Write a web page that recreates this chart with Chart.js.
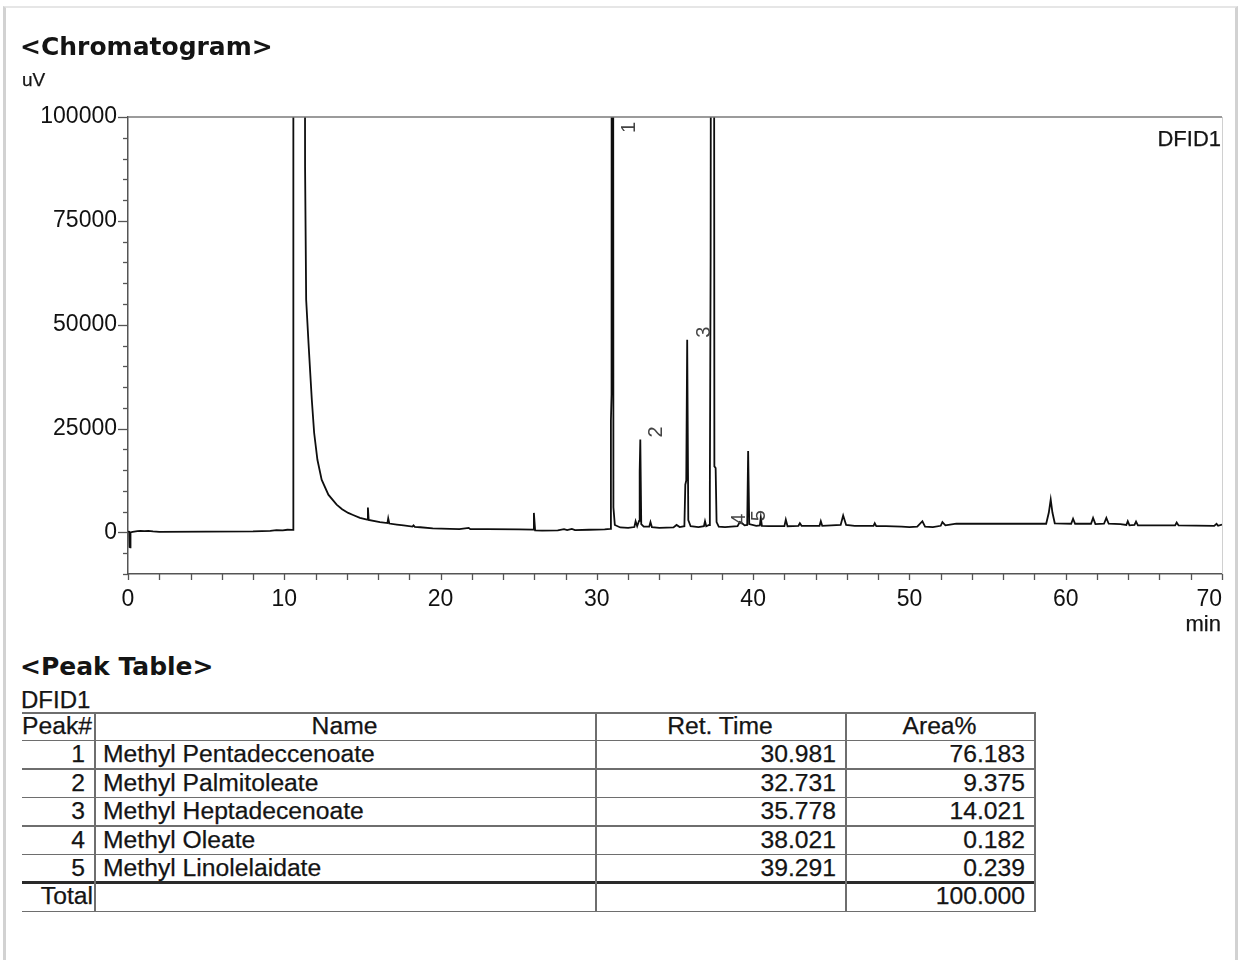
<!DOCTYPE html>
<html>
<head>
<meta charset="utf-8">
<script src="https://cdn.jsdelivr.net/npm/chart.js@4.4.1/dist/chart.umd.min.js"></script>
<style>
  html, body { margin: 0; padding: 0; background: #fff; }
  body { width: 1241px; height: 960px; position: relative; overflow: hidden;
         font-family: "Liberation Sans", Arial, sans-serif; color: #141414; }
  .frame { position: absolute; left: 3px; top: 6px; width: 1235px; height: 980px;
           border-left: 3px solid #d2d2d2; border-right: 3px solid #d2d2d2; border-top: 2px solid #e6e6e6;
           box-sizing: border-box; }
  #wrap { position: absolute; left: 0; top: 0; width: 1241px; height: 650px; }
  .t { position: absolute; white-space: nowrap; line-height: 1; -webkit-text-stroke: 0.25px #141414; }
  .hd { font-family: "DejaVu Sans", Verdana, sans-serif; font-weight: bold; -webkit-text-stroke: 0; }
  .ln { position: absolute; background: #6e6e6e; }
</style>
</head>
<body>
<div class="frame"></div>
<div id="wrap"><canvas id="c" width="1241" height="650"></canvas></div>
<div id="texts"></div>
<script>
// ---------- chromatogram trace (time in min, signal in uV) ----------
const times = [
  0.00, 0.08, 0.10, 0.14, 0.16, 0.30, 0.60, 0.80, 1.05, 1.30, 1.60, 2.00, 5.00, 8.00, 9.10, 9.50, 9.90, 10.20, 10.50, 10.56,
  10.58, 11.20, 11.33, 11.40, 11.55, 11.66, 11.76, 11.91, 12.12, 12.39, 12.82, 13.35, 13.70, 14.09, 14.40, 14.84,
  15.30, 15.35, 15.40, 16.12, 16.60, 16.65, 16.72, 17.20, 17.63, 18.20, 18.27, 18.35, 18.70, 19.50, 20.60, 21.20,
  21.80, 21.90, 23.00, 25.00, 25.92, 25.97, 26.05, 26.50, 27.50, 27.90, 28.10, 28.40, 28.60, 29.50, 30.50, 30.85,
  30.90, 30.94, 30.98, 31.06, 31.15, 31.50, 32.00, 32.40, 32.48, 32.58, 32.70, 32.74, 32.78, 32.84, 33.00, 33.35,
  33.43, 33.52, 34.00, 34.90, 35.10, 35.30, 35.60, 35.66, 35.72, 35.78, 35.85, 36.00, 36.50, 36.85, 36.92, 37.00,
  37.18, 37.23, 37.28, 37.42, 37.52, 37.60, 37.66, 37.80, 38.20, 38.60, 39.00, 39.15, 39.30, 39.45, 39.62, 39.68,
  39.75, 40.20, 40.43, 40.49, 40.56, 41.00, 42.00, 42.09, 42.20, 42.90, 42.99, 43.10, 44.25, 44.33, 44.42, 45.60,
  45.76, 45.95, 46.50, 47.70, 47.78, 47.88, 48.50, 49.50, 50.00, 50.50, 50.83, 51.00, 51.50, 52.00, 52.11, 52.30,
  52.60, 53.00, 58.75, 58.92, 59.04, 59.15, 59.30, 60.35, 60.47, 60.60, 61.62, 61.75, 61.90, 62.45, 62.60, 62.75,
  63.50, 63.88, 63.97, 64.08, 64.40, 64.50, 64.62, 67.00, 67.10, 67.22, 69.50, 69.65, 69.75, 70.00
];
const signal = [
  200, 150, -3500, -3600, 0, 150, 300, 380, 300, 380, 250, 150, 180, 250, 400, 550, 500, 650, 600, 600,
  600000, 600000, 88000, 56000, 45600, 38400, 32000, 24000, 17500, 12700, 9100, 6700, 5600, 4700, 4200, 3500,
  3100, 6000, 3000, 2500, 2250, 3400, 2150, 1900, 1700, 1400, 1700, 1350, 1250, 1000, 880, 820,
  1100, 800, 780, 740, 700, 4700, 500, 450, 500, 800, 550, 850, 550, 650, 750, 850,
  27000, 33200, 600000, 6000, 1800, 1200, 1100, 1300, 2700, 1500, 2800, 14700, 22400, 2000, 1400, 1400,
  2500, 1300, 1100, 1200, 1800, 1300, 1500, 11500, 12500, 46400, 3000, 1500, 1300, 1500, 2700, 1500,
  1800, 10700, 66400, 600000, 15900, 15500, 2500, 1400, 1300, 1400, 1500, 2500, 2200, 1700, 1800, 19600,
  2000, 1600, 1700, 3600, 1600, 1500, 1500, 3100, 1500, 1600, 2200, 1600, 1600, 2700, 1600, 1800,
  4100, 1800, 1600, 1600, 2200, 1500, 1500, 1400, 1300, 1400, 2700, 1400, 1300, 1600, 2500, 1700,
  1900, 2100, 2100, 4800, 7900, 4800, 2200, 2100, 3300, 2100, 2100, 3500, 2000, 2100, 3500, 2100,
  2000, 1800, 2700, 1700, 1800, 2600, 1700, 1700, 2400, 1700, 1600, 2100, 1600, 1900
];

// ---------- axes ----------
const xMin = 0, xMax = 70, xStep = 2;
const xTickLabels = [0, 10, 20, 30, 40, 50, 60, 70];
const yMin = -10000, yMax = 100000, yStep = 5000;
const yTickLabels = [0, 25000, 50000, 75000, 100000];

// ---------- peak table ----------
const peakIds = [1, 2, 3, 4, 5];
const peakNames = ["Methyl Pentadeccenoate", "Methyl Palmitoleate", "Methyl Heptadecenoate", "Methyl Oleate", "Methyl Linolelaidate"];
const retTimes = [30.981, 32.731, 35.778, 38.021, 39.291];
const areaPct = [76.183, 9.375, 14.021, 0.182, 0.239];
const areaTotal = 100.000;

// ---------- texts ----------
const chartTitle = "<Chromatogram>";
const yUnit = "uV";
const xUnit = "min";
const detector = "DFID1";
const tableTitle = "<Peak Table>";
const tableHeaders = ["Peak#", "Name", "Ret. Time", "Area%"];
const totalLabel = "Total";

const FONT = '"Liberation Sans", Arial, sans-serif';
const TS = 24.7; // table font size

function signalAt(t) {
  for (let i = 1; i < times.length; i++) {
    if (times[i] >= t) {
      const f = (t - times[i - 1]) / (times[i] - times[i - 1]);
      return signal[i - 1] + f * (signal[i] - signal[i - 1]);
    }
  }
  return signal[signal.length - 1];
}
function apexNear(t) {
  let v = signalAt(t);
  for (let i = 0; i < times.length; i++) {
    if (Math.abs(times[i] - t) <= 0.08) v = Math.max(v, signal[i]);
  }
  return v;
}

const decor = {
  id: 'decor',
  afterDraw(chart) {
    const ctx = chart.ctx, a = chart.chartArea;
    const xs = chart.scales.x, ys = chart.scales.y;
    ctx.save();
    ctx.strokeStyle = '#7a7a7a'; ctx.lineWidth = 1.5;
    ctx.beginPath(); ctx.moveTo(a.left, a.top); ctx.lineTo(a.right, a.top); ctx.stroke();
    ctx.strokeStyle = '#d0d0d0'; ctx.lineWidth = 1;
    ctx.beginPath(); ctx.moveTo(a.right + 0.5, a.top); ctx.lineTo(a.right + 0.5, a.bottom); ctx.stroke();
    ctx.strokeStyle = '#555'; ctx.lineWidth = 1.3;
    ys.ticks.forEach(tk => {
      const py = Math.round(ys.getPixelForValue(tk.value)) + 0.5;
      const major = yTickLabels.includes(tk.value);
      ctx.beginPath(); ctx.moveTo(a.left - (major ? 10 : 5), py); ctx.lineTo(a.left, py); ctx.stroke();
    });
    xs.ticks.forEach(tk => {
      const px = Math.round(xs.getPixelForValue(tk.value)) + 0.5;
      ctx.beginPath(); ctx.moveTo(px, a.bottom); ctx.lineTo(px, a.bottom + 6); ctx.stroke();
    });
    ctx.fillStyle = '#444';
    ctx.font = '20px ' + FONT;
    ctx.textAlign = 'left'; ctx.textBaseline = 'middle';
    retTimes.forEach((rt, i) => {
      const px = xs.getPixelForValue(rt) + 17;
      const py = Math.max(ys.getPixelForValue(apexNear(rt)), a.top + 18) - 2;
      ctx.save();
      ctx.translate(px, py); ctx.rotate(-Math.PI / 2);
      ctx.fillText(String(peakIds[i]), 0, 0);
      ctx.restore();
    });
    ctx.restore();
  }
};

const points = times.map((t, i) => ({ x: t, y: signal[i] }));

new Chart(document.getElementById('c').getContext('2d'), {
  type: 'line',
  data: { datasets: [{ data: points, borderColor: '#0e0e0e', borderWidth: 1.8, pointRadius: 0, tension: 0, fill: false }] },
  options: {
    responsive: false, animation: false, devicePixelRatio: 1,
    layout: { padding: { top: 117, right: 19, left: 0, bottom: 0 } },
    plugins: { legend: { display: false }, tooltip: { enabled: false } },
    scales: {
      x: {
        type: 'linear', min: xMin, max: xMax, position: 'bottom',
        ticks: {
          stepSize: xStep, autoSkip: false, maxRotation: 0, minRotation: 0, padding: 5,
          font: { family: FONT, size: 23 }, color: '#111',
          callback: v => xTickLabels.includes(v) ? (v === xMax ? String(v) + '    ' : String(v)) : ''
        },
        grid: { display: true, drawOnChartArea: false, color: 'rgba(0,0,0,0)', tickLength: 7 },
        border: { display: true, color: '#555', width: 1.5 },
        afterFit: s => { s.height = 76; s.paddingLeft = 0; s.paddingRight = 0; }
      },
      y: {
        type: 'linear', min: yMin, max: yMax,
        ticks: {
          stepSize: yStep, autoSkip: false, padding: 1,
          font: { family: FONT, size: 23 }, color: '#111',
          callback: v => yTickLabels.includes(v) ? String(v) : ''
        },
        grid: { display: true, drawOnChartArea: false, color: 'rgba(0,0,0,0)', tickLength: 10 },
        border: { display: true, color: '#555', width: 1.5 },
        afterFit: s => { s.width = 128; s.paddingTop = 0; s.paddingBottom = 0; }
      }
    }
  },
  plugins: [decor]
});

// ---------- HTML texts ----------
const host = document.getElementById('texts');
function addText(str, x, baseline, size, align, cls) {
  const d = document.createElement('div');
  d.className = 't' + (cls ? ' ' + cls : '');
  d.textContent = str;
  d.style.fontSize = size + 'px';
  d.style.top = (baseline - 0.847 * size) + 'px';
  if (align === 'right') d.style.right = (1241 - x) + 'px';
  else if (align === 'center') { d.style.left = x + 'px'; d.style.transform = 'translateX(-50%)'; }
  else d.style.left = x + 'px';
  host.appendChild(d);
}
function addLine(x, y, w, h, color) {
  const d = document.createElement('div');
  d.className = 'ln';
  d.style.left = x + 'px'; d.style.top = y + 'px'; d.style.width = w + 'px'; d.style.height = h + 'px';
  if (color) d.style.background = color;
  host.appendChild(d);
}

addText(chartTitle, 20, 55, 25, 'left', 'hd');
addText(yUnit, 22, 86.5, 19, 'left');
addText(detector, 1221, 146.5, 22, 'right');
addText(xUnit, 1221, 632, 22, 'right');
addText(tableTitle, 20, 675, 25, 'left', 'hd');
addText(detector, 21, 708, 24, 'left');

const tLeft = 22, tRight = 1034;
const colX = [94, 595, 845, 1034];
const rowTop = 712, headH = 27.5, rowH = 28.5;
const rowBottoms = [rowTop + headH];
for (let i = 0; i < peakIds.length + 1; i++) rowBottoms.push(rowBottoms[rowBottoms.length - 1] + rowH);

addLine(tLeft, rowTop, tRight - tLeft + 1, 1.5);
rowBottoms.forEach((yb, i) => {
  const thick = (i === rowBottoms.length - 2);
  addLine(tLeft, yb - (thick ? 1 : 0), tRight - tLeft + 1, thick ? 3 : 1.5, thick ? '#2a2a2a' : null);
});
colX.forEach(cx => addLine(cx, rowTop, 1.5, rowBottoms[rowBottoms.length - 1] - rowTop + 1.5));

const hb = rowBottoms[0] - 4.5;
addText(tableHeaders[0], 22, hb, TS, 'left');
addText(tableHeaders[1], (colX[0] + colX[1]) / 2, hb, TS, 'center');
addText(tableHeaders[2], (colX[1] + colX[2]) / 2, hb, TS, 'center');
addText(tableHeaders[3], (colX[2] + colX[3]) / 2, hb, TS, 'center');

peakIds.forEach((id, i) => {
  const b = rowBottoms[i + 1] - 5;
  addText(String(id), colX[0] - 9, b, TS, 'right');
  addText(peakNames[i], colX[0] + 9, b, TS, 'left');
  addText(retTimes[i].toFixed(3), colX[2] - 9, b, TS, 'right');
  addText(areaPct[i].toFixed(3), colX[3] - 9, b, TS, 'right');
});
const tb = rowBottoms[rowBottoms.length - 1] - 5.5;
addText(totalLabel, colX[0] - 1, tb, TS, 'right');
addText(areaTotal.toFixed(3), colX[3] - 9, tb, TS, 'right');
</script>
</body>
</html>
